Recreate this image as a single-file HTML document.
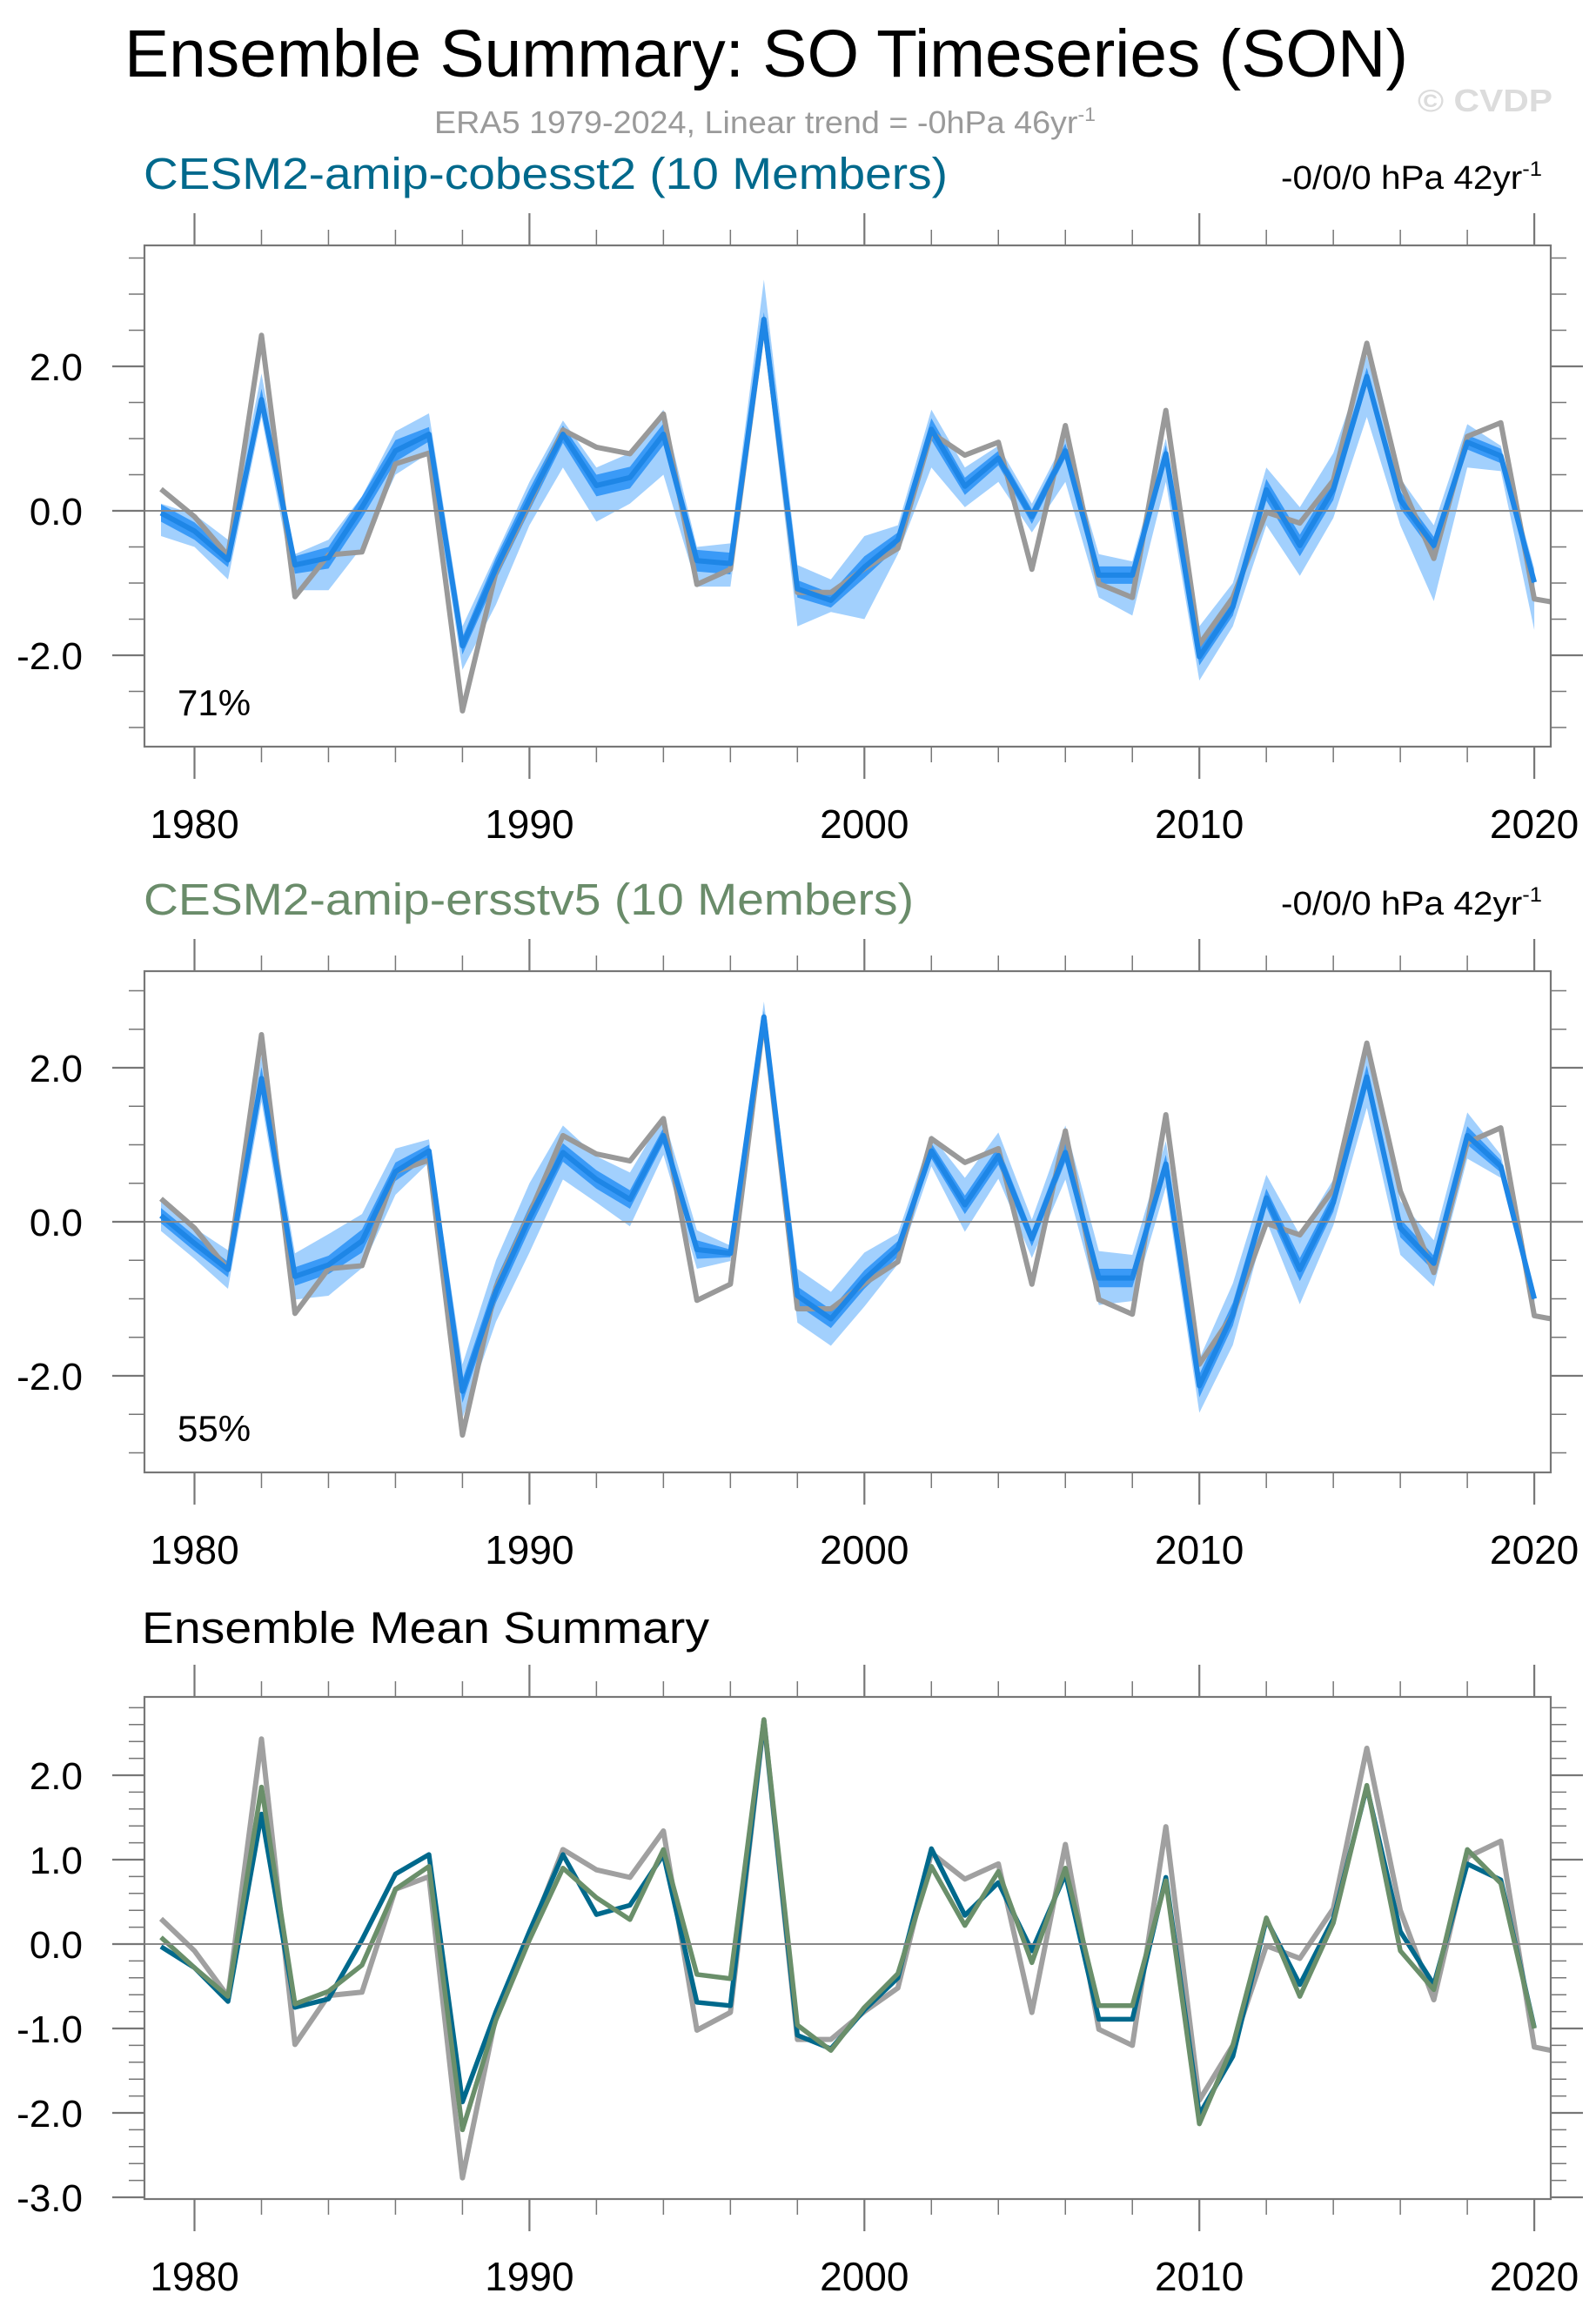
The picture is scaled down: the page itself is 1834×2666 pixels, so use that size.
<!DOCTYPE html>
<html><head><meta charset="utf-8"><style>
html,body{margin:0;padding:0;background:#fff;}
svg{display:block;font-family:"Liberation Sans",Arial,sans-serif;}
</style></head><body>
<svg id="fig" width="1834" height="2666" viewBox="0 0 1834 2666" xmlns="http://www.w3.org/2000/svg">
<rect width="1834" height="2666" fill="#fff"/>
<text x="143" y="88" font-size="77" textLength="1475" lengthAdjust="spacingAndGlyphs" fill="#000">Ensemble Summary: SO Timeseries (SON)</text>
<text x="499" y="153" font-size="36" textLength="760" lengthAdjust="spacingAndGlyphs" fill="#9a9a9a">ERA5 1979-2024, Linear trend = -0hPa 46yr<tspan dy="-14" font-size="22">-1</tspan></text>
<text x="1629" y="128" font-size="36" font-weight="bold" textLength="155" lengthAdjust="spacingAndGlyphs" fill="#dcdcdc">© CVDP</text>

<text x="165" y="217" font-size="51" textLength="924" lengthAdjust="spacingAndGlyphs" fill="#00698c">CESM2-amip-cobesst2 (10 Members)</text>
<text x="1472" y="217" font-size="38" textLength="300" lengthAdjust="spacingAndGlyphs" fill="#000">-0/0/0 hPa 42yr<tspan dy="-15" font-size="24">-1</tspan></text>
<text x="204" y="822" font-size="42" fill="#000">71%</text>

<text x="165" y="1051" font-size="51" textLength="885" lengthAdjust="spacingAndGlyphs" fill="#6a8c6a">CESM2-amip-ersstv5 (10 Members)</text>
<text x="1472" y="1051" font-size="38" textLength="300" lengthAdjust="spacingAndGlyphs" fill="#000">-0/0/0 hPa 42yr<tspan dy="-15" font-size="24">-1</tspan></text>
<text x="204" y="1656" font-size="42" fill="#000">55%</text>

<text x="163" y="1888" font-size="51" textLength="652" lengthAdjust="spacingAndGlyphs" fill="#000">Ensemble Mean Summary</text>
</svg>
<script>
const years = [];
for (let y = 1979; y <= 2021; y++) years.push(y);
const obsERA5 = [0.30,-0.08,-0.62,2.43,-1.19,-0.61,-0.57,0.65,0.80,-2.77,-0.85,0.10,1.12,0.88,0.79,1.34,-1.02,-0.81,2.65,-1.13,-1.13,-0.80,-0.52,1.08,0.77,0.95,-0.81,1.18,-1.01,-1.20,1.39,-1.85,-1.20,-0.02,-0.17,0.42,2.32,0.40,-0.66,1.03,1.22,-1.22,-1.30];
const meanCobesst = [-0.03,-0.28,-0.68,1.54,-0.75,-0.65,0.05,0.83,1.06,-1.87,-0.80,0.15,1.06,0.35,0.46,1.06,-0.69,-0.73,2.65,-1.08,-1.24,-0.78,-0.40,1.13,0.34,0.73,-0.08,0.83,-0.89,-0.89,0.79,-2.02,-1.33,0.29,-0.48,0.30,1.86,0.15,-0.48,0.95,0.76,-0.99];
const meanErsst = [0.08,-0.28,-0.62,1.86,-0.71,-0.56,-0.25,0.65,0.92,-2.20,-0.90,0.05,0.90,0.55,0.29,1.12,-0.36,-0.41,2.66,-0.96,-1.26,-0.75,-0.35,0.92,0.22,0.86,-0.22,0.90,-0.73,-0.73,0.75,-2.13,-1.20,0.31,-0.62,0.25,1.88,-0.08,-0.54,1.12,0.72,-1.00];
const cobOuterHi = [0.10,-0.05,-0.40,1.90,-0.60,-0.40,0.20,1.10,1.35,-1.60,-0.60,0.40,1.25,0.60,0.80,1.40,-0.50,-0.45,3.20,-0.75,-0.95,-0.35,-0.20,1.40,0.60,0.90,0.10,1.00,-0.60,-0.70,1.00,-1.60,-1.00,0.60,0.05,0.80,2.15,0.45,-0.20,1.20,0.90,-0.80];
const cobOuterLo = [-0.35,-0.50,-0.95,1.30,-1.10,-1.10,-0.50,0.50,0.80,-2.20,-1.30,-0.20,0.60,-0.15,0.10,0.50,-1.05,-1.05,2.40,-1.60,-1.40,-1.50,-0.60,0.60,0.05,0.40,-0.30,0.40,-1.20,-1.45,0.40,-2.35,-1.60,-0.20,-0.90,-0.10,1.30,-0.20,-1.25,0.60,0.55,-1.65];
const cobInnerHalf = [0.12,0.12,0.10,0.15,0.12,0.15,0.15,0.15,0.10,0.12,0.15,0.15,0.12,0.15,0.15,0.15,0.15,0.15,0.10,0.12,0.10,0.15,0.10,0.15,0.12,0.10,0.10,0.10,0.12,0.12,0.12,0.12,0.12,0.15,0.15,0.15,0.12,0.12,0.12,0.10,0.10,0.12];
const ersOuterHalf = [0.20,0.20,0.25,0.30,0.30,0.40,0.35,0.30,0.15,0.35,0.40,0.45,0.35,0.30,0.35,0.25,0.25,0.10,0.20,0.35,0.35,0.35,0.20,0.20,0.35,0.30,0.25,0.35,0.35,0.30,0.30,0.35,0.40,0.30,0.45,0.30,0.40,0.35,0.30,0.30,0.15,0.10];
const ersInnerHalf = [0.10,0.10,0.10,0.15,0.12,0.12,0.15,0.12,0.08,0.15,0.15,0.15,0.12,0.12,0.12,0.10,0.12,0.05,0.08,0.12,0.12,0.12,0.10,0.10,0.12,0.12,0.10,0.12,0.12,0.12,0.12,0.15,0.15,0.12,0.15,0.12,0.15,0.12,0.10,0.12,0.08,0.05];
const yTicks12 = ["-2.0","0.0","2.0"];
const yTicks3 = ["-3.0","-2.0","-1.0","0.0","1.0","2.0"];
const xTickLabels = ["1980","1990","2000","2010","2020"];

const NS = "http://www.w3.org/2000/svg";
const svg = document.getElementById("fig");
const L = 166, R = 1782;
function xs(yr){ return 223.5 + (yr - 1980) * 38.49; }
function mk(tag, attrs, parent){ const e = document.createElementNS(NS, tag); for (const k in attrs) e.setAttribute(k, attrs[k]); (parent||svg).appendChild(e); return e; }

function panel(id, top, bottom, zero, unit, minorStep, majorLabels, labelBaseline){
  const ys = v => zero - v * unit;
  const g = mk("g", {});
  
  
  const clip = mk("clipPath", {id: id + "-clip"}, g);
  mk("rect", {x: L, y: top, width: R - L, height: bottom - top}, clip);
  const data = mk("g", {"clip-path": "url(#" + id + "-clip)"}, g);
  
  
  // y ticks
  const vmin = (bottom - zero) / -unit, vmax = (zero - top) / unit;
  const nMin = Math.ceil(vmin / minorStep - 1e-6), nMax = Math.floor(vmax / minorStep + 1e-6);
  for (let i = nMin; i <= nMax; i++){
    const v = i * minorStep, y = ys(v);
    const isMajor = majorLabels.some(s => Math.abs(parseFloat(s) - v) < 1e-6);
    const len = isMajor ? 37 : 18;
    const t1 = mk("line", {x1: L - len, x2: L, y1: y, y2: y, stroke: "#777", "stroke-width": isMajor ? 2.2 : 1.5}, g);
    
    
    const t2 = mk("line", {x1: R, x2: R + len, y1: y, y2: y, stroke: "#777", "stroke-width": isMajor ? 2.2 : 1.5}, g);
    
    
  }
  majorLabels.forEach(s => {
    const t = mk("text", {x: 95, y: ys(parseFloat(s)) + 16, "font-size": 44, "text-anchor": "end", fill: "#000"}, g);
    t.textContent = s;
    
    
  });
  // x ticks
  for (let yr = 1980; yr <= 2020; yr += 2){
    const x = xs(yr), major = yr % 10 === 0, len = major ? 37 : 18;
    const a = mk("line", {x1: x, x2: x, y1: top - len, y2: top, stroke: "#777", "stroke-width": major ? 2.2 : 1.5}, g);
    
    
    const b = mk("line", {x1: x, x2: x, y1: bottom, y2: bottom + len, stroke: "#777", "stroke-width": major ? 2.2 : 1.5}, g);
    
    
  }
  xTickLabels.forEach(s => {
    const t = mk("text", {x: xs(parseFloat(s)), y: labelBaseline, "font-size": 46, "text-anchor": "middle", fill: "#000"}, g);
    t.textContent = s;
    
    
  });
  const zl = mk("line", {x1: L, x2: R + 37, y1: zero, y2: zero, stroke: "#888", "stroke-width": 2}, g);
  
  
  const frame = mk("rect", {x: L, y: top, width: R - L, height: bottom - top, fill: "none", stroke: "#777", "stroke-width": 2.2}, g);
  
  
  return {ys, data};
}
function band(p, hi, lo, fill, name){
  let d = "";
  hi.forEach((v, i) => { d += (i ? "L" : "M") + xs(years[i]) + "," + p.ys(v); });
  for (let i = lo.length - 1; i >= 0; i--) d += "L" + xs(years[i]) + "," + p.ys(lo[i]);
  const e = mk("path", {d: d + "Z", fill: fill, stroke: "none"}, p.data);
  
  
}
function line(p, vals, color, w, name){
  const d = vals.map((v, i) => (i ? "L" : "M") + xs(years[i]) + "," + p.ys(v)).join("");
  const e = mk("path", {d: d, fill: "none", stroke: color, "stroke-width": w, "stroke-linejoin": "round"}, p.data);
  
  
}
const LIGHT = "#a2d0fd", INNER = "#3a9af7", MEAN = "#1e86e6", OBS = "#999999";

const p1 = panel("panel1-cobesst2", 282, 858, 587, 83, 0.5, yTicks12, 963);
band(p1, cobOuterHi, cobOuterLo, LIGHT, "cobesst2-outer-spread");
band(p1, meanCobesst.map((v,i)=>v+cobInnerHalf[i]), meanCobesst.map((v,i)=>v-cobInnerHalf[i]), INNER, "cobesst2-inner-spread");
line(p1, obsERA5, OBS, 6, "era5-obs-line");
line(p1, meanCobesst, MEAN, 6, "cobesst2-mean-line");

const p2 = panel("panel2-ersstv5", 1116, 1692, 1404, 88.5, 0.5, yTicks12, 1797);
band(p2, meanErsst.map((v,i)=>v+ersOuterHalf[i]), meanErsst.map((v,i)=>v-ersOuterHalf[i]), LIGHT, "ersstv5-outer-spread");
band(p2, meanErsst.map((v,i)=>v+ersInnerHalf[i]), meanErsst.map((v,i)=>v-ersInnerHalf[i]), INNER, "ersstv5-inner-spread");
line(p2, obsERA5, OBS, 6, "era5-obs-line");
line(p2, meanErsst, MEAN, 6, "ersstv5-mean-line");

const p3 = panel("panel3-mean-summary", 1950, 2527, 2234, 97, 0.2, yTicks3, 2632);
line(p3, obsERA5, "#a0a0a0", 6, "era5-obs-line");
line(p3, meanCobesst, "#00698c", 5.5, "cobesst2-mean-line");
line(p3, meanErsst, "#6a8f6a", 5.5, "ersstv5-mean-line");
</script>
</body></html>
